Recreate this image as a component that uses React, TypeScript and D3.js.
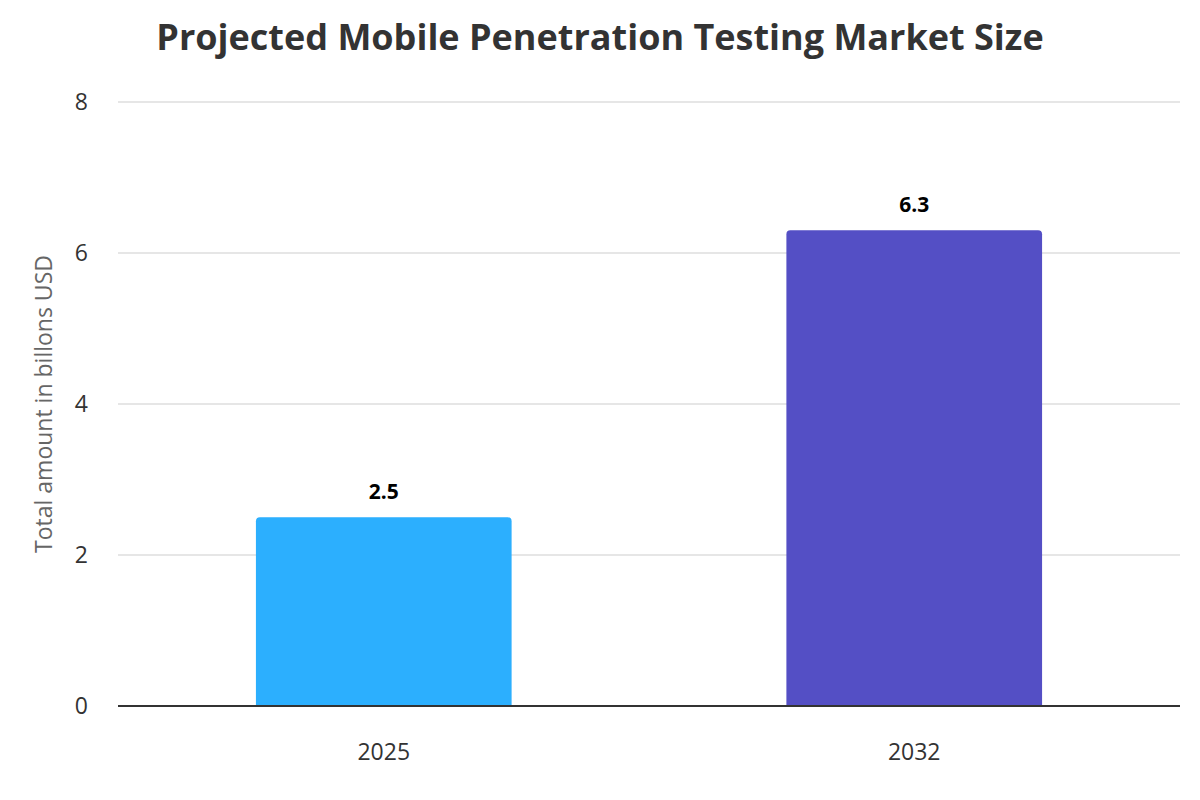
import * as d3 from "d3";

const WIDTH = 1200;
const HEIGHT = 800;
const MARGIN = { top: 102, right: 20, bottom: 94, left: 118 };

const TITLE = "Projected Mobile Penetration Testing Market Size";
const Y_TITLE = "Total amount in billons USD";
const years = ["2025", "2032"];
const values = [2.5, 6.3];
const colors = ["#2caffe", "#544fc5"];
const yTicks = [0, 2, 4, 6, 8];

const FONT = "'Open Sans', 'Noto Sans', sans-serif";

// path for a bar with rounded top corners only
const topRounded = (x: number, y: number, w: number, h: number, r: number) => {
  const rr = Math.min(r, w / 2, h);
  return `M${x},${y + h}V${y + rr}Q${x},${y} ${x + rr},${y}H${x + w - rr}Q${x + w},${y} ${x + w},${y + rr}V${y + h}Z`;
};

export default function App() {
  const boundsWidth = WIDTH - MARGIN.left - MARGIN.right;
  const boundsHeight = HEIGHT - MARGIN.top - MARGIN.bottom;

  const xScale = d3
    .scaleBand()
    .domain(years)
    .range([0, boundsWidth])
    .paddingInner(0.518)
    .paddingOuter(0.26);

  const yScale = d3.scaleLinear().domain([0, 8]).range([boundsHeight, 0]);

  return (
    <div style={{ position: "absolute", left: 0, top: 0 }}>
      <svg width={WIDTH} height={HEIGHT} style={{ display: "block", fontFamily: FONT }}>
        <rect width={WIDTH} height={HEIGHT} fill="#fff" />
        <text
          x={WIDTH / 2}
          y={50}
          textAnchor="middle"
          fontSize={36}
          fontWeight="bold"
          fill="#333333"
        >
          {TITLE}
        </text>

        <text
          transform={`translate(52,${MARGIN.top + boundsHeight / 2}) rotate(-90)`}
          textAnchor="middle"
          fontSize={23}
          fill="#666666"
        >
          {Y_TITLE}
        </text>

        <g transform={`translate(${MARGIN.left},${MARGIN.top})`}>
          {/* grid + y labels */}
          {yTicks.map((t) => (
            <g key={t} transform={`translate(0,${yScale(t)})`}>
              {t !== 0 && <line x2={boundsWidth} stroke="#e6e6e6" strokeWidth={2} />}
              <text x={-30} dy="0.35em" textAnchor="end" fontSize={23} fill="#333333">
                {t}
              </text>
            </g>
          ))}

          {/* bars */}
          {years.map((yr, i) => {
            const x = xScale(yr) as number;
            const y = yScale(values[i]);
            const w = xScale.bandwidth();
            return (
              <g key={yr}>
                <path d={topRounded(x, y, w, boundsHeight - y, 4)} fill={colors[i]} />
                <text
                  x={x + w / 2}
                  y={y - 18}
                  textAnchor="middle"
                  fontSize={21}
                  fontWeight="bold"
                  fill="#000000"
                >
                  {values[i]}
                </text>
              </g>
            );
          })}

          {/* x axis */}
          <line y1={boundsHeight} y2={boundsHeight} x2={boundsWidth} stroke="#333333" strokeWidth={2} />
          {years.map((yr) => (
            <text
              key={yr}
              x={(xScale(yr) as number) + xScale.bandwidth() / 2}
              y={boundsHeight + 54}
              textAnchor="middle"
              fontSize={23}
              fill="#333333"
            >
              {yr}
            </text>
          ))}
        </g>
      </svg>
    </div>
  );
}
